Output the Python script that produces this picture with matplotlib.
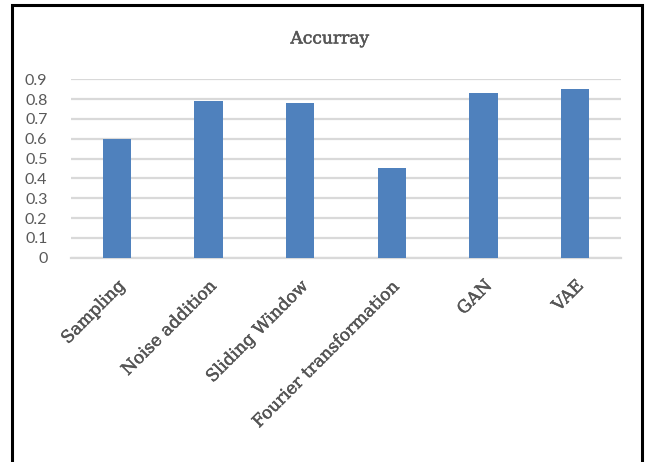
import matplotlib
matplotlib.use("Agg")
import matplotlib.pyplot as plt
import matplotlib.patheffects as pe
from matplotlib.patches import Rectangle

categories = ["Sampling", "Noise addition", "Sliding Window",
              "Fourier transformation", "GAN", "VAE"]
accuracy = [0.60, 0.79, 0.78, 0.45, 0.83, 0.85]
y_ticks = [0, 0.1, 0.2, 0.3, 0.4, 0.5, 0.6, 0.7, 0.8, 0.9]
y_tick_labels = ["0", "0.1", "0.2", "0.3", "0.4", "0.5", "0.6", "0.7", "0.8", "0.9"]
title = "Accurray"

W, H = 648, 462
fig = plt.figure(figsize=(W / 100, H / 100), dpi=100)
fig.patch.set_facecolor("white")

# chart frame
fig.patches.append(Rectangle((12 / W, -0.05), 630 / W, 1.05 - 5 / H,
                             transform=fig.transFigure, fill=False,
                             edgecolor="black", linewidth=2.2))

ax = fig.add_axes([71 / W, 1 - 257.7 / H, 550 / W, (257.7 - 79.3) / H])
x = range(len(categories))
ax.bar(x, accuracy, width=0.31, color="#4f81bd", zorder=3)
ax.set_xlim(-0.5, len(categories) - 0.5)
ax.set_ylim(0, 0.9)
ax.set_yticks(y_ticks)
ax.set_yticklabels(y_tick_labels, family="Lato", fontsize=11.5, color="#595959")
ax.yaxis.grid(True, color="#d9d9d9", linewidth=1.6, zorder=0)
ax.set_axisbelow(True)
for s in ["left", "right", "top"]:
    ax.spines[s].set_visible(False)
ax.spines["bottom"].set_color("#d9d9d9")
ax.spines["bottom"].set_linewidth(1.6)
ax.tick_params(axis="y", length=0, pad=17)
ax.tick_params(axis="x", length=0, pad=14)
ax.set_xticks(list(x))

# slightly heavier serif text for the category names and title
heavy = [pe.withStroke(linewidth=0.35, foreground="#555555")]
ax.set_xticklabels(categories, rotation=45, ha="right", rotation_mode="anchor",
                   family="DejaVu Serif", fontsize=12.3, color="#555555")
for lbl in ax.get_xticklabels():
    lbl.set_path_effects(heavy)

fig.text(330 / W, 1 - 39 / H, title, ha="center", va="center",
         family="DejaVu Serif", fontsize=12.3, color="#555555",
         path_effects=heavy)

fig.savefig("out.png", dpi=100)
